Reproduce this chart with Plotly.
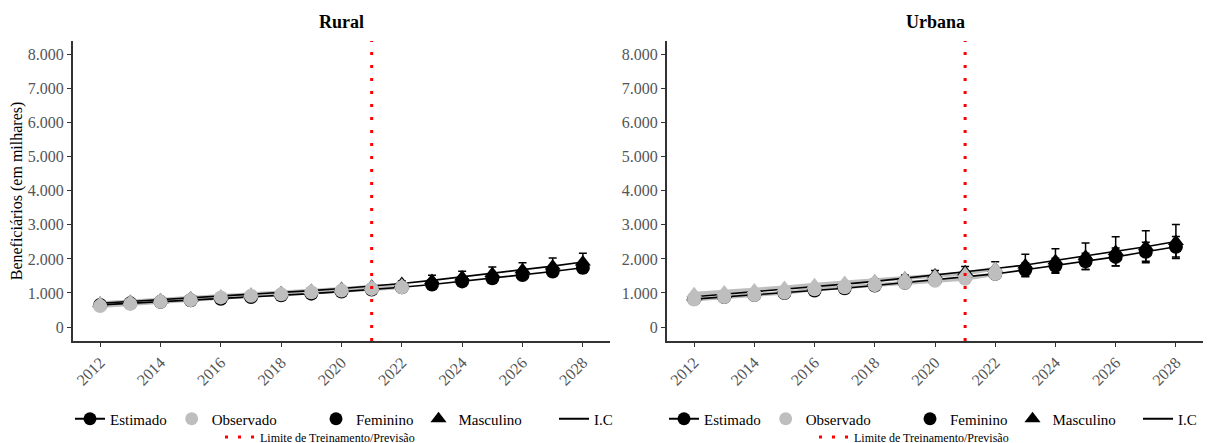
import plotly.graph_objects as go

years = list(range(2012, 2029))
obs_years = list(range(2012, 2023))
x_ticks = list(range(2012, 2029, 2))
y_ticks = [0, 1000, 2000, 3000, 4000, 5000, 6000, 7000, 8000]
panels = ["Rural", "Urbana"]
y_title = "Beneficiários (em milhares)"
limit_year = 2021

# Rural
rural_fem_est = [650, 695, 740, 785, 830, 880, 930, 980, 1040, 1100, 1170, 1250, 1340, 1430, 1530, 1630, 1740]
rural_masc_est = [700, 750, 800, 850, 900, 955, 1010, 1070, 1130, 1200, 1280, 1370, 1470, 1570, 1680, 1790, 1910]
rural_fem_err = [15, 15, 20, 20, 25, 25, 30, 30, 35, 45, 55, 100, 110, 120, 130, 140, 150]
rural_masc_err = [20, 20, 25, 25, 30, 30, 35, 40, 45, 55, 70, 150, 170, 190, 210, 235, 260]
rural_fem_obs = [620, 680, 740, 790, 870, 920, 960, 1020, 1070, 1120, 1170]
rural_masc_obs = [700, 750, 800, 850, 910, 960, 1010, 1070, 1120, 1180, 1230]

# Urbana
urb_fem_est = [820, 880, 940, 1000, 1070, 1140, 1220, 1300, 1380, 1460, 1560, 1680, 1800, 1930, 2060, 2210, 2360]
urb_masc_est = [890, 960, 1030, 1100, 1180, 1260, 1340, 1430, 1530, 1620, 1720, 1820, 1950, 2080, 2220, 2360, 2510]
urb_fem_err = [25, 25, 30, 35, 40, 50, 60, 70, 90, 110, 140, 200, 220, 240, 260, 280, 300]
urb_masc_err = [30, 35, 40, 45, 55, 65, 80, 100, 130, 160, 200, 320, 350, 390, 430, 470, 500]
urb_fem_obs = [810, 880, 940, 1010, 1110, 1170, 1230, 1300, 1360, 1420, 1560]
urb_masc_obs = [980, 1030, 1090, 1160, 1240, 1310, 1370, 1430, 1500, 1570, 1720]

data = {
    "Rural": dict(fe=rural_fem_est, me=rural_masc_est, ferr=rural_fem_err, merr=rural_masc_err,
                  fo=rural_fem_obs, mo=rural_masc_obs),
    "Urbana": dict(fe=urb_fem_est, me=urb_masc_est, ferr=urb_fem_err, merr=urb_masc_err,
                   fo=urb_fem_obs, mo=urb_masc_obs),
}

FONT = "Liberation Serif, Times New Roman, DejaVu Serif, serif"
BLACK = "#000000"
GRAY = "#bebebe"
RED = "#ff0000"
W, H = 1211, 443
OFF = 8  # page body margin


def px(x):
    return (x - OFF) / W


def py(y):
    return 1 - (y - OFF) / H


fig = go.Figure()

x_domains = [[px(73), px(610)], [px(667), px(1203)]]
y_domain = [py(341), py(41)]
y_range = [-410, 8400]
x_range = [2011.1, 2028.9]

for i, p in enumerate(panels):
    d = data[p]
    xa = "x" if i == 0 else "x2"
    ya = "y" if i == 0 else "y2"
    for vals in (d["fo"], d["mo"]):
        fig.add_trace(go.Scatter(x=obs_years, y=vals, mode="lines",
                                 line=dict(color=GRAY, width=4), xaxis=xa, yaxis=ya,
                                 showlegend=False, hoverinfo="skip"))
    for vals in (d["fe"], d["me"]):
        fig.add_trace(go.Scatter(x=years, y=vals, mode="lines",
                                 line=dict(color=BLACK, width=1.6), xaxis=xa, yaxis=ya,
                                 showlegend=False))
    for vals, err, sym in ((d["fe"], d["ferr"], "circle"), (d["me"], d["merr"], "triangle-up")):
        fig.add_trace(go.Scatter(x=years, y=vals, mode="markers",
                                 marker=dict(color=BLACK, size=14, symbol=sym),
                                 error_y=dict(type="data", array=err, color=BLACK, thickness=1.5, width=4),
                                 xaxis=xa, yaxis=ya, showlegend=False))
    for vals, sym in ((d["fo"], "circle"), (d["mo"], "triangle-up")):
        fig.add_trace(go.Scatter(x=obs_years, y=vals, mode="markers",
                                 marker=dict(color=GRAY, size=14, symbol=sym),
                                 xaxis=xa, yaxis=ya, showlegend=False))
    lg = 4 * i
    fig.add_trace(go.Scatter(x=[limit_year, limit_year], y=y_range, mode="lines",
                             line=dict(color=RED, width=3, dash="3px,10px"),
                             xaxis=xa, yaxis=ya, name="Limite de Treinamento/Previsão",
                             legend=f"legend{lg + 4}", showlegend=True))
    leg1 = "legend" if i == 0 else f"legend{lg + 1}"
    fig.add_trace(go.Scatter(x=[None], y=[None], mode="lines+markers", name="Estimado",
                             line=dict(color=BLACK, width=2), marker=dict(color=BLACK, size=13),
                             xaxis=xa, yaxis=ya, legend=leg1))
    fig.add_trace(go.Scatter(x=[None], y=[None], mode="markers", name="Observado",
                             marker=dict(color=GRAY, size=13), xaxis=xa, yaxis=ya, legend=leg1))
    fig.add_trace(go.Scatter(x=[None], y=[None], mode="markers", name="Feminino",
                             marker=dict(color=BLACK, size=13, symbol="circle"),
                             xaxis=xa, yaxis=ya, legend=f"legend{lg + 2}"))
    fig.add_trace(go.Scatter(x=[None], y=[None], mode="markers", name="Masculino",
                             marker=dict(color=BLACK, size=14, symbol="triangle-up"),
                             xaxis=xa, yaxis=ya, legend=f"legend{lg + 2}"))
    fig.add_trace(go.Scatter(x=[None], y=[None], mode="lines", name="I.C",
                             line=dict(color=BLACK, width=2),
                             xaxis=xa, yaxis=ya, legend=f"legend{lg + 3}"))

axis_common = dict(showline=True, linecolor="#333333", linewidth=2, ticks="outside",
                   ticklen=4, tickcolor="#333333", showgrid=False, zeroline=False,
                   automargin=False,
                   tickfont=dict(family=FONT, size=16, color="#555555"))

layout = dict(
    width=W, height=H, paper_bgcolor="white", plot_bgcolor="white",
    margin=dict(l=0, r=0, t=0, b=0, autoexpand=False),
    separators=",.",
    font=dict(family=FONT, color="#000000"),
)
for i in range(2):
    sx = "" if i == 0 else "2"
    layout[f"xaxis{sx}"] = dict(domain=x_domains[i], range=x_range, tickvals=x_ticks,
                                tickangle=-45, anchor=f"y{sx}", **axis_common)
    layout[f"yaxis{sx}"] = dict(domain=y_domain, range=y_range, tickvals=y_ticks,
                                tickformat=",d", anchor=f"x{sx}", **axis_common)
layout["yaxis"]["title"] = dict(text=y_title, font=dict(family=FONT, size=16, color="#000"), standoff=10)

fig.update_layout(**layout)

annotations = []
for i, p in enumerate(panels):
    cx = (x_domains[i][0] + x_domains[i][1]) / 2
    annotations.append(dict(text=f"<b>{p}</b>", x=cx, y=py(22), xref="paper", yref="paper",
                            showarrow=False, font=dict(family=FONT, size=18, color="#000"),
                            xanchor="center", yanchor="middle"))
fig.update_layout(annotations=annotations)

row1_y = py(419)
row2_y = py(437)
leg_font = dict(family=FONT, size=15, color="#000")
offsets = [0, 594]
for i in range(2):
    o = offsets[i]
    lg = 4 * i
    names = ["legend" if i == 0 else f"legend{lg + 1}", f"legend{lg + 2}", f"legend{lg + 3}", f"legend{lg + 4}"]
    ic_x = 554 + (o if i == 0 else 584)
    xs = [70 + o, 316 + o, ic_x, 220 + o]
    ys = [row1_y, row1_y, row1_y, row2_y]
    for nm, xx, yy in zip(names, xs, ys):
        fig.update_layout(**{nm: dict(orientation="h", x=px(xx), y=yy, xanchor="left", yanchor="middle",
                                      font=leg_font if nm != names[3] else dict(family=FONT, size=12, color="#000"),
                                      bgcolor="rgba(0,0,0,0)", itemwidth=30, tracegroupgap=0,
                                      itemclick=False)})

fig.write_html("out.html")
